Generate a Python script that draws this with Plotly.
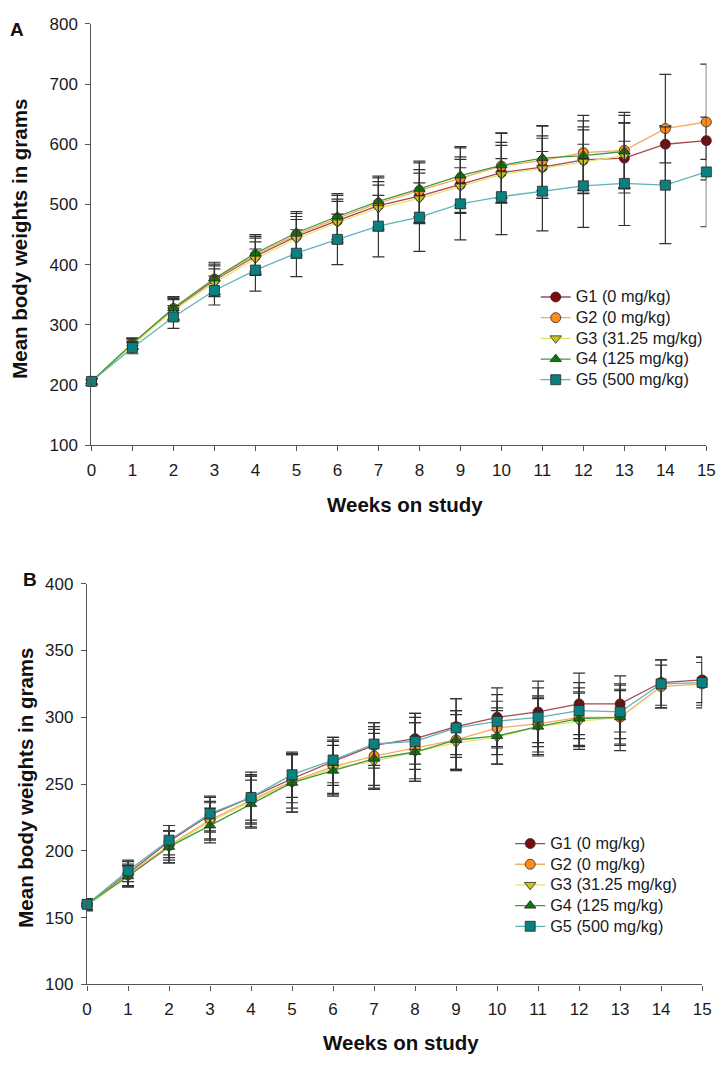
#! /usr/bin/env python3
import plotly.graph_objects as go

W, H = 725, 1065
OFF = 8

weeks = list(range(16))
weeks13 = list(range(14))

names = ['G1 (0 mg/kg)', 'G2 (0 mg/kg)', 'G3 (31.25 mg/kg)', 'G4 (125 mg/kg)', 'G5 (500 mg/kg)']

# panel A - means
a_g1 = [206, 268, 326, 374, 414, 447, 473, 498, 514, 533, 553, 562, 574, 577, 600, 606]
a_g2 = [206, 269, 327, 376, 416, 450, 477, 502, 523, 544, 564, 573, 586, 590, 626, 637]
a_g3 = [205, 267, 324, 370, 410, 443, 470, 494, 510, 530, 550, 560, 571, 581]
a_g4 = [206, 269, 328, 377, 419, 453, 480, 505, 526, 548, 565, 577, 581, 588]
a_g5 = [206, 262, 313, 357, 391, 419, 442, 464, 479, 501, 513, 522, 531, 535, 532, 554]
# panel A - SD
a_g1_sd = [5, 9, 18, 24, 30, 33, 36, 40, 44, 46, 50, 52, 55, 58, 31, 31]
a_g2_sd = [5, 9, 19, 25, 31, 35, 38, 42, 46, 50, 54, 57, 62, 63, 90, 96]
a_g3_sd = [5, 8, 18, 23, 28, 32, 35, 38, 42, 45, 48, 50, 53, 55]
a_g4_sd = [5, 9, 19, 27, 31, 35, 38, 42, 46, 48, 54, 54, 58, 60]
a_g5_sd = [5, 10, 19, 24, 35, 39, 42, 51, 57, 60, 63, 66, 69, 70, 97, 91]

# panel B - means
b_g1 = [160, 183, 207, 227, 240, 254, 267, 279, 284, 293, 300, 304, 310, 310, 326, 328]
b_g2 = [160, 182, 204, 223, 238, 252, 263, 271, 277, 283, 292, 295, 300, 300, 323, 325]
b_g3 = [159, 181, 203, 222, 237, 251, 262, 267, 274, 281, 285, 293, 297, 300]
b_g4 = [160, 181, 203, 219, 235, 251, 260, 269, 274, 283, 286, 293, 299, 300]
b_g5 = [160, 185, 208, 228, 240, 257, 268, 280, 282, 292, 297, 300, 305, 304, 325, 326]
# panel B - SD
b_g1_sd = [4, 9, 12, 13, 17, 18, 18, 17, 19, 21, 22, 23, 23, 21, 17, 17]
b_g2_sd = [4, 8, 11, 14, 18, 20, 20, 22, 23, 22, 20, 21, 22, 25, 16, 16]
b_g3_sd = [4, 8, 12, 14, 19, 22, 20, 21, 22, 21, 20, 22, 21, 20]
b_g4_sd = [4, 8, 12, 13, 18, 22, 19, 22, 22, 22, 21, 21, 20, 21]
b_g5_sd = [4, 8, 11, 13, 19, 17, 17, 16, 21, 22, 20, 22, 21, 20, 18, 19]

line_cols = ['#a8474f', '#f7a95c', '#e3e36a', '#3f9b3f', '#5fb4b8']
mark_cols = ['#7d0a0a', '#ff8c1a', '#c9c420', '#0a780a', '#0a8080']
symbols = ['circle', 'circle', 'triangle-down', 'triangle-up', 'square']

font = 'Liberation Sans, Arial, sans-serif'

fig = go.Figure()

panels = [
    ('x', 'y', 'legend', [a_g1, a_g2, a_g3, a_g4, a_g5], [a_g1_sd, a_g2_sd, a_g3_sd, a_g4_sd, a_g5_sd]),
    ('x2', 'y2', 'legend2', [b_g1, b_g2, b_g3, b_g4, b_g5], [b_g1_sd, b_g2_sd, b_g3_sd, b_g4_sd, b_g5_sd]),
]

for xa, ya, leg, means, sds in panels:
    for i in range(5):
        xs = weeks if len(means[i]) == 16 else weeks13
        fig.add_trace(go.Scatter(
            x=xs, y=means[i], mode='lines+markers',
            # small legend font keeps rows tight, the span sets the visible size
            name='<span style="font-size:16.3px">' + names[i] + '</span>',
            xaxis=xa, yaxis=ya, legend=leg, cliponaxis=False,
            line=dict(color=line_cols[i], width=1.3),
            marker=dict(symbol=symbols[i], size=10, color=mark_cols[i],
                        line=dict(color='#2a2a2a', width=0.8)),
            error_y=dict(type='data', array=sds[i], color='#333333', thickness=1.2, width=6),
        ))

axis_common = dict(showline=True, linecolor='#555555', linewidth=1.3, ticks='outside',
                   ticklen=5, tickcolor='#555555', showgrid=False, zeroline=False,
                   tickfont=dict(family=font, size=17, color='#1a1a1a'))


def px_x(p):
    return (p - OFF) / W


def px_y(p):
    return 1 - (p - OFF) / H


leg_common = dict(xanchor='left', yanchor='middle', bgcolor='rgba(0,0,0,0)', tracegroupgap=0,
                  font=dict(family=font, size=13.6, color='#1a1a1a'))

fig.update_layout(
    width=W, height=H, margin=dict(l=0, r=0, t=0, b=0),
    paper_bgcolor='white', plot_bgcolor='white', showlegend=True,
    xaxis=dict(domain=[px_x(88), px_x(715)], range=[0, 15], dtick=1, anchor='y',
               ticklabelstandoff=4, **axis_common),
    yaxis=dict(domain=[px_y(444), px_y(15)], range=[100, 800], dtick=100, anchor='x',
               ticklabelstandoff=4, **axis_common),
    xaxis2=dict(domain=[px_x(83.5), px_x(710.7)], range=[0, 15], dtick=1, anchor='y2',
                ticklabelstandoff=4, **axis_common),
    yaxis2=dict(domain=[px_y(993), px_y(585)], range=[100, 400], dtick=50, anchor='x2',
                ticklabelstandoff=4, **axis_common),
    legend=dict(x=px_x(541), y=px_y(335.5), **leg_common),
    legend2=dict(x=px_x(515), y=px_y(892), **leg_common),
)

title_font = dict(family=font, size=20.5, color='#111111')
annos = [
    dict(x=px_x(12), y=1, yanchor='top', text='<b>A</b>', font=dict(family=font, size=19, color='#111111')),
    dict(x=px_x(25), y=px_y(581), text='<b>B</b>', font=dict(family=font, size=19, color='#111111')),
    dict(x=px_x(407.5), y=px_y(504), text='<b>Weeks on study</b>', font=title_font),
    dict(x=px_x(404), y=px_y(1052), text='<b>Weeks on study</b>', font=title_font),
    dict(x=px_x(15), y=px_y(234), text='<b>Mean body weights in grams</b>', textangle=-90, font=title_font),
    dict(x=px_x(21), y=px_y(793), text='<b>Mean body weights in grams</b>', textangle=-90, font=title_font),
]
for a in annos:
    a.setdefault('yanchor', 'middle')
    fig.add_annotation(xref='paper', yref='paper', showarrow=False, xanchor='center', **a)

fig.write_html("out.html")
